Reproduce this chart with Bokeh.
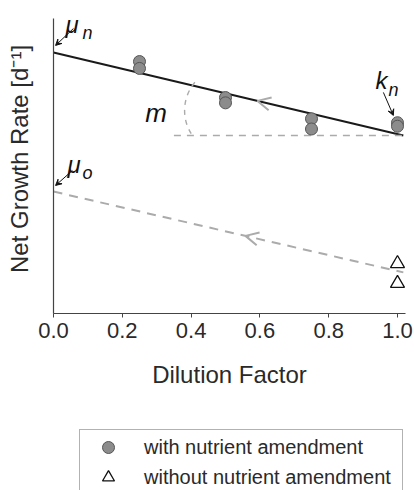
from bokeh.plotting import figure
from bokeh.layouts import column
from bokeh.models import (Range1d, FixedTicker, PrintfTickFormatter, Label, Arrow,
                          VeeHead, OpenHead, Legend, LegendItem)
from bokeh.embed import file_html
from bokeh.resources import INLINE

# ---- data ----
dilution_with = [0.25, 0.25, 0.5, 0.5, 0.75, 0.75, 1.0, 1.0]
rate_with = [1.281, 1.246, 1.098, 1.071, 0.990, 0.938, 0.970, 0.952]
dilution_without = [1.0, 1.0]
rate_without = [0.254, 0.153]

fit_x = [0.0, 1.017]
fit_with = [1.327, 0.905]        # mu_n -> k_n
fit_without = [0.620, 0.209]     # mu_0 -> ...
horiz_x = [0.35, 1.017]
horiz_y = [0.905, 0.905]

x_ticks = [0.0, 0.2, 0.4, 0.6, 0.8, 1.0]
legend_labels = ["with nutrient amendment", "without nutrient amendment"]

FONT = "Liberation Sans"
GRAY = "#ababab"
TXT = "#2a2a2a"
CIRCLE_STYLE = dict(marker="circle", size=12, fill_color="#8c8c8c",
                    line_color="#555555", line_width=1)
TRI_STYLE = dict(marker="triangle", size=14, fill_color="white",
                 line_color="#111111", line_width=1.3)

p = figure(width=414, height=420, output_backend="svg", toolbar_location=None,
           x_range=Range1d(0, 1.0233), y_range=Range1d(0, 1.571),
           min_border_left=53, min_border_right=9, min_border_top=4,
           min_border_bottom=107)
p.outline_line_color = None
p.grid.visible = False
p.background_fill_color = "white"

# axes
p.xaxis.ticker = FixedTicker(ticks=x_ticks)
p.xaxis.formatter = PrintfTickFormatter(format="%.1f")
p.xaxis.major_label_text_font = FONT
p.xaxis.major_label_text_font_size = "22px"
p.xaxis.major_label_text_color = TXT
p.xaxis.major_label_standoff = 5
p.xaxis.major_tick_in = 0
p.xaxis.major_tick_out = 4
p.xaxis.minor_tick_line_color = None
p.xaxis.axis_line_color = "#444444"
p.xaxis.major_tick_line_color = "#444444"
p.xaxis.axis_line_width = 1.2
p.xaxis.axis_label = "Dilution Factor"
p.xaxis.axis_label_text_font = FONT
p.xaxis.axis_label_text_font_size = "24px"
p.xaxis.axis_label_text_font_style = "normal"
p.xaxis.axis_label_text_color = TXT
p.xaxis.axis_label_standoff = 20

p.yaxis.ticker = FixedTicker(ticks=[])
p.yaxis.bounds = (0, 1.5)
p.yaxis.major_label_text_font_size = "0px"
p.yaxis.major_tick_in = 0
p.yaxis.major_tick_out = 0
p.yaxis.minor_tick_line_color = None
p.yaxis.axis_line_color = "#444444"
p.yaxis.axis_line_width = 1.2
p.yaxis.axis_label = "Net Growth Rate [d\u207b\u00b9]"
p.yaxis.axis_label_text_font = FONT
p.yaxis.axis_label_text_font_size = "24px"
p.yaxis.axis_label_text_font_style = "normal"
p.yaxis.axis_label_text_color = TXT
p.yaxis.axis_label_standoff = 21

# lines
p.line(fit_x, fit_with, line_color="#1a1a1a", line_width=2)
p.line(fit_x, fit_without, line_color=GRAY, line_width=2, line_dash="9 7")
p.line(horiz_x, horiz_y, line_color=GRAY, line_width=1.6, line_dash="7 6")
p.arc(x=[0.509], y=[1.032], radius=44, radius_units="screen",
      start_angle=140, end_angle=212, start_angle_units="deg", end_angle_units="deg",
      direction="anticlock",
      line_color=GRAY, line_width=1.4, line_dash="5 5")

# direction chevrons
p.add_layout(Arrow(end=OpenHead(size=13, line_color=GRAY, line_width=2),
                   x_start=0.66, y_start=1.327 - 0.415 * 0.66,
                   x_end=0.593, y_end=1.327 - 0.415 * 0.593,
                   line_alpha=0))
p.add_layout(Arrow(end=OpenHead(size=13, line_color=GRAY, line_width=2),
                   x_start=0.62, y_start=0.620 - 0.404 * 0.62,
                   x_end=0.558, y_end=0.620 - 0.404 * 0.558,
                   line_alpha=0))

# points
p.scatter(dilution_with, rate_with, **CIRCLE_STYLE)
p.scatter(dilution_without, rate_without, **TRI_STYLE)

# annotations (italic symbols)
def lab(x, y, t, size):
    p.add_layout(Label(x=x, y=y, text=t, text_font=FONT, text_font_style="italic",
                       text_font_size=size, text_color="#111111",
                       text_align="left", text_baseline="alphabetic"))

lab(0.035, 1.469, "μ", "24px")
lab(0.084, 1.424, "n", "18px")
lab(0.041, 0.758, "μ", "24px")
lab(0.084, 0.712, "o", "18px")
lab(0.936, 1.185, "k", "24px")
lab(0.974, 1.134, "n", "18px")
lab(0.267, 1.017, "m", "26px")

def ptr(x0, y0, x1, y1):
    p.add_layout(Arrow(end=VeeHead(size=6, fill_color="#111111", line_color="#111111"),
                       x_start=x0, y_start=y0, x_end=x1, y_end=y1,
                       line_color="#111111", line_width=1))

ptr(0.058, 1.449, 0.006, 1.363)
ptr(0.055, 0.727, 0.006, 0.651)
ptr(0.959, 1.124, 0.988, 1.007)

# legend panel: a second, axis-less figure under the plot (its data lie
# outside its own visible range, so only the legend shows)
pl = figure(width=414, height=70, output_backend="svg", toolbar_location=None,
            x_axis_type=None, y_axis_type=None, x_range=Range1d(0, 1),
            y_range=Range1d(50, 51), min_border_left=53, min_border_right=9,
            min_border_top=0, min_border_bottom=0)
pl.outline_line_color = None
pl.grid.visible = False
lr1 = pl.scatter(dilution_with, rate_with, **CIRCLE_STYLE)
lr2 = pl.scatter(dilution_without, rate_without, **TRI_STYLE)
legend = Legend(items=[LegendItem(label=legend_labels[0], renderers=[lr1]),
                       LegendItem(label=legend_labels[1], renderers=[lr2])],
                location=(26, -5), margin=0, padding=2, spacing=0, glyph_width=52,
                glyph_height=30, label_height=30, label_width=256, label_standoff=10,
                label_text_font=FONT, label_text_font_size="20px",
                label_text_color=TXT, border_line_color="#666666",
                border_line_width=1, background_fill_color="white",
                background_fill_alpha=1)
pl.add_layout(legend, "center")

layout = column(p, pl, spacing=0)
open("out.html", "w").write(file_html(layout, INLINE))
